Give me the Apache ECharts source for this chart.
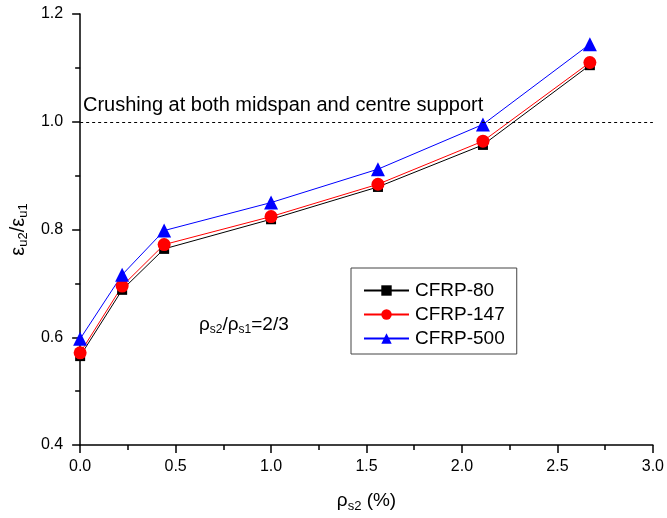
<!DOCTYPE html>
<html>
<head>
<meta charset="utf-8">
<script src="https://cdn.jsdelivr.net/npm/echarts@6/dist/echarts.min.js"></script>
<style>
html,body{margin:0;padding:0;background:#fff;}
#chart{width:667px;height:518px;}
</style>
</head>
<body>
<div id="chart"></div>
<script>
// ---- data ----
var rhoS2 = [0, 0.22, 0.44, 1.0, 1.56, 2.11, 2.67];
var cfrp80  = [0.565, 0.688, 0.764, 0.819, 0.879, 0.957, 1.105];
var cfrp147 = [0.571, 0.695, 0.772, 0.824, 0.884, 0.964, 1.110];
var cfrp500 = [0.597, 0.716, 0.798, 0.850, 0.912, 0.995, 1.144];
var seriesNames = ['CFRP-80', 'CFRP-147', 'CFRP-500'];
var xTicks = [0, 0.5, 1.0, 1.5, 2.0, 2.5, 3.0];
var yTicks = [0.4, 0.6, 0.8, 1.0, 1.2];
var limitLine = 1.0;
var limitText = 'Crushing at both midspan and centre support';

function pairs(xs, ys){ return xs.map(function(x,i){ return [x, ys[i]]; }); }

var FONT = 'Liberation Sans, Arial, Helvetica, sans-serif';
var chart = echarts.init(document.getElementById('chart'), null, {renderer:'canvas'});

var axisCommon = {
  axisLine:{show:true, onZero:false, lineStyle:{color:'#000', width:1.5}},
  axisTick:{show:true, inside:false, length:8, lineStyle:{color:'#000', width:1.5}},
  minorTick:{show:true, splitNumber:2, length:5, lineStyle:{color:'#000', width:1.5}},
  splitLine:{show:false},
  axisLabel:{color:'#000', fontSize:16, fontFamily:FONT}
};

chart.setOption({
  animation:false,
  backgroundColor:'#fff',
  textStyle:{fontFamily:FONT},
  grid:{left:80, right:11, top:14, bottom:73, containLabel:false},
  xAxis: Object.assign({}, axisCommon, {
    type:'value', min:xTicks[0], max:xTicks[xTicks.length-1], interval:0.5,
    axisLabel:Object.assign({}, axisCommon.axisLabel, {margin:14, formatter:function(v){return v.toFixed(1);}}),
    name:'{a|ρ}{b|s2}{a| (%)}', nameLocation:'middle', nameGap:44,
    nameTextStyle:{rich:{
      a:{fontSize:19, color:'#000', fontFamily:FONT},
      b:{fontSize:13, color:'#000', fontFamily:FONT, verticalAlign:'bottom', padding:[11,0,0,0]}
    }}
  }),
  yAxis: Object.assign({}, axisCommon, {
    type:'value', min:yTicks[0], max:yTicks[yTicks.length-1], interval:0.2,
    axisLabel:Object.assign({}, axisCommon.axisLabel, {margin:17, formatter:function(v){return v.toFixed(1);}}),
    name:'{a|ε}{b|u2}{a|/ε}{b|u1}', nameLocation:'middle', nameGap:48, nameRotate:90,
    nameTextStyle:{rich:{
      a:{fontSize:20, color:'#000', fontFamily:FONT},
      b:{fontSize:13, color:'#000', fontFamily:FONT, verticalAlign:'bottom', padding:[11,0,0,0]}
    }}
  }),
  legend:{
    orient:'vertical', left:351, top:268, width:165,
    padding:[13,12,6,12], itemGap:5,
    borderColor:'#444', borderWidth:1, borderRadius:0,
    itemWidth:45, itemHeight:13,
    textStyle:{fontSize:19, color:'#000', fontFamily:FONT, padding:[0,0,0,1]},
    data:seriesNames
  },
  series:[
    {name:seriesNames[0], type:'line', data:pairs(rhoS2, cfrp80), symbol:'rect', symbolSize:10,
     itemStyle:{color:'#000'}, lineStyle:{color:'#000', width:1},
     markLine:{silent:true, symbol:'none', label:{show:false},
       lineStyle:{color:'#000', type:[3,3], width:1},
       data:[{yAxis:limitLine}]}},
    {name:seriesNames[1], type:'line', data:pairs(rhoS2, cfrp147), symbol:'circle', symbolSize:13,
     itemStyle:{color:'#ff0000'}, lineStyle:{color:'#ff0000', width:1}},
    {name:seriesNames[2], type:'line', data:pairs(rhoS2, cfrp500), symbol:'triangle', symbolSize:14,
     itemStyle:{color:'#0000ff'}, lineStyle:{color:'#0000ff', width:1}}
  ],
  graphic:[
    {type:'text', left:83, top:95, style:{text:limitText, fontSize:20, fill:'#000', fontFamily:FONT}},
    {type:'text', left:199, top:315, style:{
      text:'{a|ρ}{b|s2}{a|/ρ}{b|s1}{a|=2/3}',
      rich:{
        a:{fontSize:19, fill:'#000', fontFamily:FONT},
        b:{fontSize:12, fill:'#000', fontFamily:FONT, verticalAlign:'bottom', padding:[11,0,0,0]}
      }}}
  ]
});
</script>
</body>
</html>
